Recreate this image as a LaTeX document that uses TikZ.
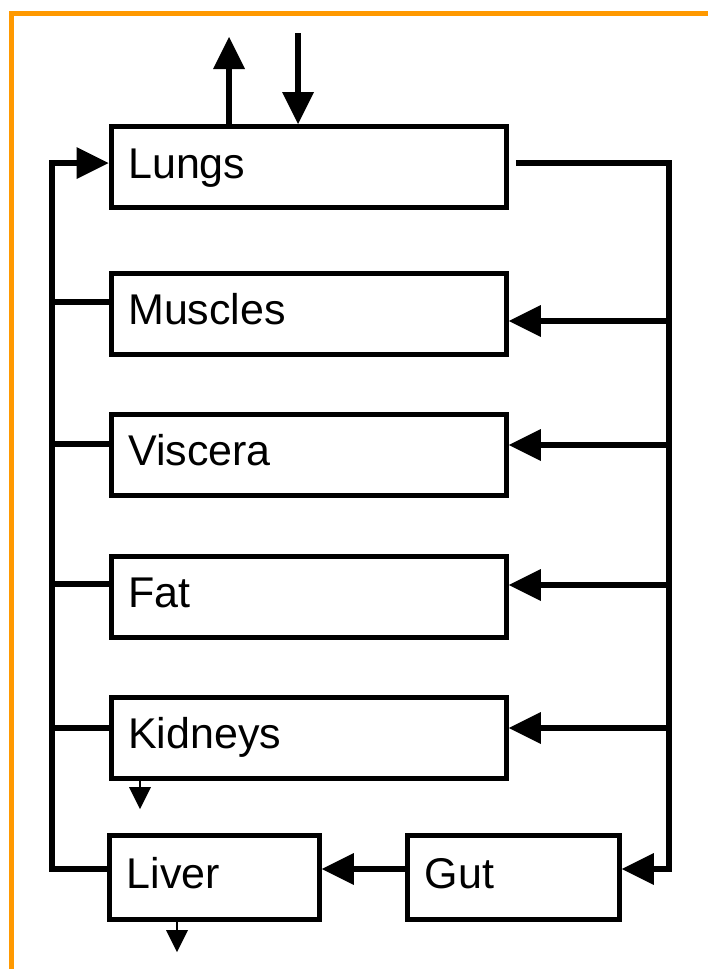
\documentclass[tikz,border=0pt]{standalone}
\usepackage{fontspec}
\setmainfont{Liberation Sans}
\usetikzlibrary{arrows.meta}
\definecolor{frameorange}{RGB}{255,153,0}
\begin{document}
\begin{tikzpicture}[x=1pt,y=-1pt,
  organ/.style={draw, line width=5.4pt, rectangle, anchor=north west,
    inner xsep=17pt, inner ysep=0pt, align=left,
    text height=31pt, text depth=9pt,
    font=\fontsize{43pt}{50pt}\selectfont},
  bigorgan/.style={organ, text width=361pt, minimum height=81pt},
  smallorgan/.style={organ, minimum height=84pt},
  flow/.style={line width=5.4pt, line join=miter},
  arr/.style={flow, -{Triangle[length=32pt,width=32pt,line width=0pt]}},
  sarr/.style={line width=2.2pt, -{Triangle[length=22pt,width=22pt,line width=0pt]}},
  frame/.style={draw=frameorange, line width=5pt}
]
\useasboundingbox (0,0) rectangle (707,969);
\draw[frame] (11,990) -- (11,13) -- (730,13);

\node[bigorgan] (Lungs)   at (108.5,124)   {Lungs};
\node[bigorgan] (Muscles) at (108.5,270.5) {Muscles};
\node[bigorgan] (Viscera) at (108.5,411.5) {Viscera};
\node[bigorgan] (Fat)     at (108.5,553.5) {Fat};
\node[bigorgan] (Kidneys) at (108.5,694.5) {Kidneys};
\node[smallorgan, text width=175.5pt] (Liver) at (107,832.5) {Liver};
\node[smallorgan, text width=177.5pt] (Gut)   at (405,832.5) {Gut};

% breathing
\coordinate (up) at (229,37);
\coordinate (dn) at (298,33);
\draw[arr] (Lungs.north -| up) -- (up);
\draw[arr] (dn) -- (Lungs.north -| dn);

% bus coordinates
\coordinate (rtop) at (669,163);
\coordinate (rbot) at (669,869);
\coordinate (ltop) at (52,163);
\coordinate (lbot) at (52,869);

% arterial side
\draw[arr, shorten <=7pt] (Lungs.east |- rtop) -- (rtop) -- (rbot) -- (Gut.east |- rbot);
\coordinate (rm) at (669,321);
\coordinate (rv) at (669,445);
\coordinate (rf) at (669,585);
\coordinate (rk) at (669,728);
\draw[arr] (rm) -- (Muscles.east |- rm);
\draw[arr] (rv) -- (Viscera.east |- rv);
\draw[arr] (rf) -- (Fat.east |- rf);
\draw[arr] (rk) -- (Kidneys.east |- rk);

% venous side
\draw[arr] (Liver.west |- lbot) -- (lbot) -- (ltop) -- (Lungs.west |- ltop);
\coordinate (lm) at (52,302);
\coordinate (lv) at (52,444);
\coordinate (lf) at (52,584);
\coordinate (lk) at (52,728);
\draw[flow] (lm) -- (Muscles.west |- lm);
\draw[flow] (lv) -- (Viscera.west |- lv);
\draw[flow] (lf) -- (Fat.west |- lf);
\draw[flow] (lk) -- (Kidneys.west |- lk);

% gut to liver
\draw[arr] (Gut.west |- rbot) -- (Liver.east |- rbot);

% elimination
\coordinate (ko) at (140,809);
\coordinate (lo) at (177,952);
\draw[sarr] (Kidneys.south -| ko) -- (ko);
\draw[sarr] (Liver.south -| lo) -- (lo);
\end{tikzpicture}
\end{document}
